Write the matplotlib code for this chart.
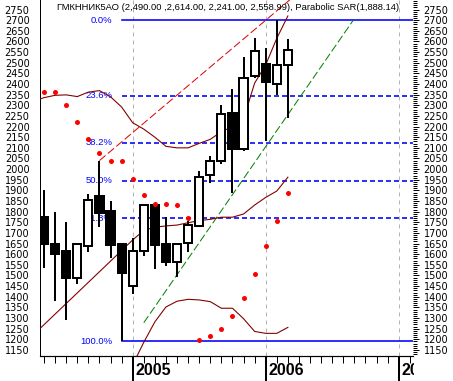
import matplotlib
matplotlib.use('Agg')
import matplotlib.pyplot as plt
from matplotlib.patches import Rectangle
from matplotlib.transforms import blended_transform_factory, Bbox, TransformedBbox, ScaledTranslation
from matplotlib.ticker import MultipleLocator, FixedLocator

plt.rcParams['lines.scale_dashes'] = False

W, H, DPI = 453, 381, 100

# ---- data (month index: 0 = Jan 2004) ----
months = list(range(4, 27))
opens  = [1777, 1650, 1615, 1490, 1638, 1875, 1805, 1648, 1450, 1616, 1831, 1648,
          1564, 1652, 1734, 1972, 2039, 2262, 2094, 2440, 2492, 2400, 2490]
highs  = [1900, 1797, 1750, 1655, 1883, 2040, 1852, 1650, 1675, 1836, 1836, 1773,
          1655, 1758, 1992, 2062, 2300, 2375, 2525, 2615, 2570, 2700, 2614]
lows   = [1533, 1380, 1290, 1462, 1610, 1727, 1580, 1192, 1414, 1590, 1530, 1544,
          1494, 1611, 1730, 1937, 2023, 1886, 2083, 2430, 2130, 2350, 2241]
closes = [1650, 1600, 1490, 1648, 1856, 1792, 1642, 1510, 1616, 1831, 1642, 1564,
          1648, 1739, 1964, 2036, 2258, 2094, 2430, 2555, 2411, 2490, 2558.99]
sar    = [2362, 2362, 2303, 2220, 2142, 2077, 2036, 2036, 1953, 1878, 1836, 1836,
          1831, 1770, 1197, 1214, 1247, 1308, 1392, 1506, 1640, 1755, 1888.14]

upper_x = [3, 4, 5, 6, 7, 8, 9, 10, 11, 12, 13, 14, 15, 16, 17, 18, 19, 20, 21, 22, 23, 24, 25, 26]
upper_y = [2318, 2336, 2347, 2349, 2341, 2362, 2369, 2340, 2292, 2218, 2188, 2150, 2107, 2100,
           2100, 2121, 2140, 2176, 2200, 2236, 2404, 2490, 2615, 2720]
middle_x = [3, 12, 13, 14, 15, 16, 17, 18, 19, 20, 21, 22, 23, 24, 25, 26]
middle_y = [1219, 1667, 1712, 1727, 1733, 1737, 1748, 1758, 1764, 1774, 1774, 1789, 1831, 1867,
            1897, 1962]
lower_x = [12, 13, 14, 15, 16, 17, 18, 19, 20, 21, 22, 23, 24, 25, 26]
lower_y = [1080, 1186, 1282, 1352, 1379, 1388, 1385, 1377, 1346, 1346, 1297, 1237, 1228, 1228, 1256]

trend_red_x = [9, 28]
trend_red_y = [2040, 2876]
trend_green_x = [13, 31.9]
trend_green_y = [1278, 2700]

fib_high, fib_low = 2700, 1192
fib_pcts = [0.0, 23.6, 38.2, 50.0, 61.8, 100.0]
fib_start = 11

year_months = [0, 12, 24, 36]
year_labels = ['2004', '2005', '2006', '2007']

title = "ГМКННИК5АО (2,490.00 ,2,614.00, 2,241.00, 2,558.99), Parabolic SAR(1,888.14)"

# ---- figure ----
fig = plt.figure(figsize=(W / DPI, H / DPI), dpi=DPI)
ax = fig.add_axes([40 / W, 25 / H, 373 / W, 356 / H])
ax.set_xlim(3.636, 37.29)
ax.set_ylim(1121.5, 2795)

px = 72.0 / DPI  # points per pixel

# vertical year grid
for ym in year_months[1:]:
    ax.axvline(ym, color='#b4b4b4', lw=1 * px, linestyle=(0, (4 * px, 4 * px)), zorder=1)

# fibonacci
rng = fib_high - fib_low
for p in fib_pcts:
    lvl = fib_high - rng * p / 100.0
    ls = '-' if p in (0.0, 100.0) else (0, (5 * px, 3 * px))
    ax.plot([fib_start, 40], [lvl, lvl], color='#0000ff', lw=1.6 * px, linestyle=ls, zorder=2)
    ax.annotate(f"{p:.1f}%", xy=(fib_start, lvl), xytext=(-9 * px, 0), textcoords='offset points',
                ha='right', va='center', color='#0000ff', fontsize=6.8,
                family=['Liberation Sans', 'DejaVu Sans'], zorder=2)

# trend lines
ax.plot(trend_red_x, trend_red_y, color='#e00000', lw=1 * px,
        linestyle=(0, (8 * px, 3 * px)), zorder=3)
ax.plot(trend_green_x, trend_green_y, color='#008000', lw=1 * px,
        linestyle=(0, (8 * px, 3 * px)), zorder=3)

# band curves
for xs, ys in ((upper_x, upper_y), (middle_x, middle_y), (lower_x, lower_y)):
    ax.plot(xs, ys, color='#800000', lw=1.1 * px, zorder=4)

# candles
bw = 0.74
for m, o, h, l, c in zip(months, opens, highs, lows, closes):
    ax.plot([m, m], [l, h], color='black', lw=2 * px, zorder=5, solid_capstyle='butt')
    fc = 'white' if c >= o else 'black'
    ax.add_patch(Rectangle((m - bw / 2, min(o, c)), bw, abs(c - o), facecolor=fc,
                           edgecolor='black', lw=2 * px, zorder=6))

# parabolic SAR
ax.plot(months, sar, linestyle='none', marker='o', ms=3.6, color='#ff0000',
        markeredgewidth=0, zorder=8)

# axes styling
for s in ('top', 'right'):
    ax.spines[s].set_visible(False)
ax.spines['left'].set_linewidth(1 * px)
ax.spines['bottom'].set_linewidth(1.2 * px)

ax.yaxis.set_major_locator(FixedLocator(list(range(1150, 2751, 50))))
ax.yaxis.set_minor_locator(MultipleLocator(10))
ax.tick_params(axis='y', which='both', left=False, right=True, labelleft=True, labelright=True,
               direction='out')
ax.tick_params(axis='y', which='major', length=6 * px, width=1 * px, pad=4.5 * px, labelsize=7)
ax.tick_params(axis='y', which='minor', length=3.5 * px, width=1 * px)
for lab in ax.get_yticklabels():
    lab.set_family(['DejaVu Sans'])

ax.xaxis.set_major_locator(MultipleLocator(1))
ax.tick_params(axis='x', which='major', length=7 * px, width=1 * px, direction='out',
               labelbottom=False)

# year separators and labels below the axis
bt = blended_transform_factory(ax.transData, fig.transFigure)
clip = TransformedBbox(Bbox.from_extents(39 / W, 0, 413.5 / W, 25 / H), fig.transFigure)
for ym, yl in zip(year_months, year_labels):
    ln = ax.plot([ym, ym], [0, 25 / H], color='black', lw=2 * px, transform=bt, zorder=10)[0]
    ln.set_clip_on(True)
    ln.set_clip_box(clip)
    t = ax.text(ym, 10.5 / H, yl, transform=bt + ScaledTranslation(2.5 / DPI, 0, fig.dpi_scale_trans),
                ha='left', va='center', fontsize=11.5, fontweight='bold',
                family=['Liberation Sans', 'DejaVu Sans'])
    t.set_clip_on(True)
    t.set_clip_box(clip)

fig.text(57 / W, 1 - 7 / H, title, ha='left', va='center', fontsize=6.75,
         family=['Liberation Sans', 'DejaVu Sans'])

fig.savefig('out.png', dpi=DPI)
